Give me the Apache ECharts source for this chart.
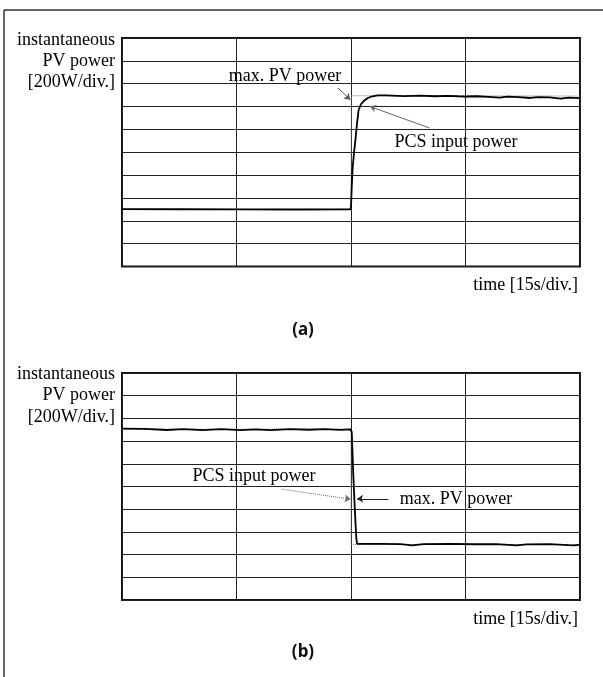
<!DOCTYPE html>
<html>
<head>
<meta charset="utf-8">
<script src="https://cdn.jsdelivr.net/npm/echarts@6/dist/echarts.min.js"></script>
<style>
html,body{margin:0;padding:0;background:#fff;}
#chart{width:603px;height:677px;}
</style>
</head>
<body>
<div id="chart"></div>
<script>
// ---- axis definitions ----
var xTicks = [0, 15, 30, 45, 60];            // time [s], 15 s/div
var yTicks = [0, 200, 400, 600, 800, 1000, 1200, 1400, 1600, 1800, 2000]; // 200 W/div

// ---- panel (a): step up ----
var aPcsTime  = [0, 7.5, 15, 22.5, 29.9, 30.0, 30.1, 30.2, 30.4, 30.6, 30.8, 31.0, 31.3, 31.7, 32.2, 32.8, 33.5, 34.5,
                 37, 39, 41, 42.5, 44, 45, 46.5, 48, 49.5, 50.5, 52, 53.5, 54.5, 56, 57.5, 58.5, 60];
var aPcsPower = [502, 501, 500, 499, 500, 520, 700, 850, 1000, 1120, 1260, 1370, 1420, 1450, 1475, 1490, 1497, 1497,
                 1492, 1496, 1490, 1494, 1490, 1488, 1490, 1484, 1478, 1486, 1482, 1475, 1483, 1480, 1470, 1478, 1474];
var aMaxTime  = [0, 30, 30.05, 60];
var aMaxPower = [500, 500, 1495, 1492];

// ---- panel (b): step down ----
var bPcsTime  = [0, 3, 5.9, 8, 10.6, 13, 15.5, 17.5, 19.4, 22, 24.5, 26.5, 28.6, 29.9, 30.1, 30.3, 30.5, 30.7, 30.8,
                 31, 34, 36.5, 38, 39.5, 43, 46, 49, 51.7, 53, 56, 58.5, 59.3, 60];
var bPcsPower = [1510, 1507, 1498, 1506, 1497, 1505, 1496, 1504, 1497, 1506, 1500, 1505, 1499, 1503, 1480, 1100, 800, 540, 495,
                 492, 494, 492, 482, 492, 494, 491, 492, 481, 490, 492, 484, 482, 487];
var bMaxTime  = [0, 30, 30.02, 60];
var bMaxPower = [1505, 1505, 490, 488];

// ---- annotation arrows (data coordinates: [time, power]) ----
var aArrowMaxFrom = [28.3, 1562], aArrowMaxTo = [29.9, 1460];
var aArrowPcsFrom = [40.3, 1212], aArrowPcsTo = [32.5, 1400];
var bArrowPcsFrom = [20.9, 977],  bArrowPcsTo = [29.95, 888];
var bArrowMaxFrom = [34.9, 891],  bArrowMaxTo = [30.8, 891];

function zip(t, v){ return t.map(function(x,i){ return [x, v[i]]; }); }

var serif = '"Liberation Serif", "Times New Roman", serif';
var gridA = {left:122, top:38, width:458, height:228.5, show:true, borderColor:'#111', borderWidth:2, backgroundColor:'#fff'};
var gridB = {left:122, top:373, width:458, height:227, show:true, borderColor:'#111', borderWidth:2, backgroundColor:'#fff'};

function xAx(idx){
  return {type:'value', gridIndex:idx, min:xTicks[0], max:xTicks[xTicks.length-1], interval:xTicks[1]-xTicks[0],
    axisLine:{show:false}, axisTick:{show:false}, axisLabel:{show:false},
    splitLine:{show:true, lineStyle:{color:'#222', width:1}}};
}
function yAx(idx){
  return {type:'value', gridIndex:idx, min:yTicks[0], max:yTicks[yTicks.length-1], interval:yTicks[1]-yTicks[0],
    axisLine:{show:false}, axisTick:{show:false}, axisLabel:{show:false},
    splitLine:{show:true, lineStyle:{color:'#222', width:1}}};
}
function arrowLine(from, to, color, type){
  return [{coord:from, lineStyle:{color:color, width:1, type:type}}, {coord:to}];
}

var chart = echarts.init(document.getElementById('chart'), null, {renderer:'canvas'});
chart.setOption({
  animation:false,
  backgroundColor:'#fff',
  grid:[gridA, gridB],
  xAxis:[xAx(0), xAx(1)],
  yAxis:[yAx(0), yAx(1)],
  series:[
    {type:'line', name:'max. PV power', xAxisIndex:0, yAxisIndex:0, data:zip(aMaxTime, aMaxPower), showSymbol:false,
     lineStyle:{color:'#777', width:1, type:'dotted'}, z:3},
    {type:'line', name:'PCS input power', xAxisIndex:0, yAxisIndex:0, data:zip(aPcsTime, aPcsPower), showSymbol:false,
     lineStyle:{color:'#000', width:1.8}, z:4,
     markLine:{silent:true, symbol:['none','arrow'], symbolSize:6, label:{show:false},
       itemStyle:{color:'#111'},
       data:[arrowLine(aArrowMaxFrom, aArrowMaxTo, '#555', 'solid'), arrowLine(aArrowPcsFrom, aArrowPcsTo, '#666', 'solid')]}},
    {type:'line', name:'max. PV power', xAxisIndex:1, yAxisIndex:1, data:zip(bMaxTime, bMaxPower), showSymbol:false,
     lineStyle:{color:'#777', width:1, type:'dotted'}, z:3},
    {type:'line', name:'PCS input power', xAxisIndex:1, yAxisIndex:1, data:zip(bPcsTime, bPcsPower), showSymbol:false,
     lineStyle:{color:'#000', width:1.8}, z:4,
     markLine:{silent:true, symbol:['none','arrow'], symbolSize:6, label:{show:false},
       itemStyle:{color:'#111'},
       data:[arrowLine(bArrowPcsFrom, bArrowPcsTo, '#666', 'dotted'), arrowLine(bArrowMaxFrom, bArrowMaxTo, '#222', 'solid')]}}
  ],
  graphic:[
    // outer frame (left and top edges)
    {type:'line', shape:{x1:4, y1:10, x2:603, y2:10}, style:{stroke:'#333', lineWidth:1.5}},
    {type:'line', shape:{x1:4, y1:10, x2:4, y2:677}, style:{stroke:'#333', lineWidth:1.5}},
    // panel (a) texts
    {type:'text', x:115, y:40, style:{text:'instantaneous', font:'18px '+serif, fill:'#000', align:'right', verticalAlign:'middle'}},
    {type:'text', x:115, y:61, style:{text:'PV power', font:'18px '+serif, fill:'#000', align:'right', verticalAlign:'middle'}},
    {type:'text', x:115, y:82, style:{text:'[200W/div.]', font:'18px '+serif, fill:'#000', align:'right', verticalAlign:'middle'}},
    {type:'text', x:578, y:285, style:{text:'time [15s/div.]', font:'18px '+serif, fill:'#000', align:'right', verticalAlign:'middle'}},
    {type:'text', x:285, y:76, z:10, style:{text:'max. PV power', font:'18px '+serif, fill:'#000', align:'center', verticalAlign:'middle'}},
    {type:'text', x:456, y:142, z:10, style:{text:'PCS input power', font:'18px '+serif, fill:'#000', align:'center', verticalAlign:'middle'}},
    {type:'text', x:303, y:330, style:{text:'(a)', font:'bold 17px "Noto Sans", sans-serif', fill:'#111', align:'center', verticalAlign:'middle'}},
    // panel (b) texts
    {type:'text', x:115, y:374, style:{text:'instantaneous', font:'18px '+serif, fill:'#000', align:'right', verticalAlign:'middle'}},
    {type:'text', x:115, y:395, style:{text:'PV power', font:'18px '+serif, fill:'#000', align:'right', verticalAlign:'middle'}},
    {type:'text', x:115, y:417, style:{text:'[200W/div.]', font:'18px '+serif, fill:'#000', align:'right', verticalAlign:'middle'}},
    {type:'text', x:578, y:619, style:{text:'time [15s/div.]', font:'18px '+serif, fill:'#000', align:'right', verticalAlign:'middle'}},
    {type:'text', x:254, y:476, z:10, style:{text:'PCS input power', font:'18px '+serif, fill:'#000', align:'center', verticalAlign:'middle'}},
    {type:'text', x:456, y:499, z:10, style:{text:'max. PV power', font:'18px '+serif, fill:'#000', align:'center', verticalAlign:'middle'}},
    {type:'text', x:303, y:652, style:{text:'(b)', font:'bold 17px "Noto Sans", sans-serif', fill:'#111', align:'center', verticalAlign:'middle'}}
  ]
});
</script>
</body>
</html>
